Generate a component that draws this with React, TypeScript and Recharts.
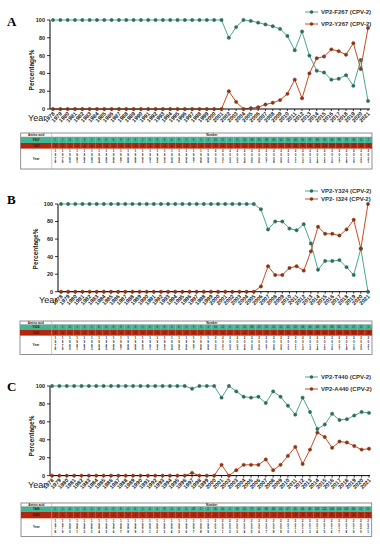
import { LineChart, Line, XAxis, YAxis } from 'recharts';

const YEARS = [
  '1978', '1979', '1980', '1981', '1982', '1983', '1984', '1985', '1986', '1987',
  '1988', '1989', '1990', '1991', '1992', '1993', '1994', '1995', '1996', '1997',
  '1998', '1999', '2000', '2001', '2002', '2003', '2004', '2005', '2006', '2007',
  '2008', '2009', '2010', '2011', '2012', '2013', '2014', '2015', '2016', '2017',
  '2018', '2019', '2020', '2021',
];

// percentages per year
const A_F267 = [
  100, 100, 100, 100, 100, 100, 100, 100, 100, 100, 100, 100, 100, 100, 100, 100,
  100, 100, 100, 100, 100, 100, 100, 100,
  80, 92, 100, 99, 97, 95, 93, 90, 82, 66, 87, 60, 43, 41, 33, 34, 38, 26, 55, 9,
];
const A_Y267 = [
  0, 0, 0, 0, 0, 0, 0, 0, 0, 0, 0, 0, 0, 0, 0, 0, 0, 0, 0, 0, 0, 0, 0, 0,
  20, 8, 0, 1, 2, 5, 7, 10, 17, 33, 12, 40, 57, 59, 67, 65, 61, 74, 45, 91,
];
const B_Y324 = [
  100, 100, 100, 100, 100, 100, 100, 100, 100, 100, 100, 100, 100, 100, 100, 100,
  100, 100, 100, 100, 100, 100, 100, 100, 100, 100, 100, 100,
  94, 71, 80, 80, 72, 70, 77, 55, 25, 35, 35, 36, 28, 19, 49, 0,
];
const B_I324 = [
  0, 0, 0, 0, 0, 0, 0, 0, 0, 0, 0, 0, 0, 0, 0, 0, 0, 0, 0, 0, 0, 0, 0, 0, 0, 0, 0, 0,
  6, 29, 19, 19, 27, 29, 24, 46, 74, 66, 66, 64, 71, 82, 49, 100,
];
const C_T440 = [
  100, 100, 100, 100, 100, 100, 100, 100, 100, 100, 100, 100, 100, 100, 100, 100,
  100, 100, 100,
  97, 100, 100, 100, 87, 100, 94, 88, 87, 88, 81, 94, 88, 78, 68, 87, 71, 52, 57,
  69, 62, 63, 67, 71, 70,
];
const C_A440 = [
  0, 0, 0, 0, 0, 0, 0, 0, 0, 0, 0, 0, 0, 0, 0, 0, 0, 0, 0,
  3, 0, 0, 0, 12, 0, 6, 12, 12, 12, 18, 6, 12, 22, 32, 13, 29, 48, 43, 31, 38, 37,
  33, 29, 30,
];

// sequence counts per year (table rows)
const A_F267_N = [
  1, 1, 11, 1, 3, 1, 8, 6, 6, 8, 4, 6, 5, 6, 6, 8, 4, 6, 5, 9, 5, 4, 16, 12,
  4, 11, 15, 68, 45, 38, 40, 54, 50, 40, 61, 67, 86, 92, 60, 89, 73, 34, 12, 2,
];
const A_Y267_N = [
  0, 0, 0, 0, 0, 0, 0, 0, 0, 0, 0, 0, 0, 0, 0, 0, 0, 0, 0, 0, 0, 0, 0, 0,
  1, 1, 0, 1, 1, 2, 3, 6, 11, 21, 9, 45, 114, 132, 122, 171, 118, 97, 10, 21,
];
const B_Y324_N = [
  1, 1, 11, 1, 3, 1, 8, 6, 6, 8, 4, 6, 5, 6, 6, 8, 4, 6, 5, 9, 5, 4, 16, 12, 4, 11, 15, 68,
  47, 31, 32, 51, 42, 42, 64, 44, 48, 61, 38, 62, 52, 27, 11, 0,
];
const B_I324_N = [
  0, 0, 0, 0, 0, 0, 0, 0, 0, 0, 0, 0, 0, 0, 0, 0, 0, 0, 0, 0, 0, 0, 0, 0, 0, 0, 0, 0,
  3, 13, 8, 13, 16, 18, 19, 36, 146, 115, 72, 110, 134, 117, 11, 23,
];
const C_T440_N = [
  1, 1, 11, 1, 3, 1, 8, 6, 6, 8, 4, 6, 5, 6, 6, 8, 4, 6, 5,
  28, 5, 4, 16, 10, 4, 16, 15, 71, 43, 38, 48, 53, 47, 41, 64, 66, 102, 122, 108,
  120, 118, 68, 13, 21,
];
const C_A440_N = [
  0, 0, 0, 0, 0, 0, 0, 0, 0, 0, 0, 0, 0, 0, 0, 0, 0, 0, 0,
  1, 0, 0, 0, 2, 0, 1, 2, 10, 6, 9, 3, 7, 13, 19, 10, 27, 94, 92, 49, 74, 68, 34, 5, 9,
];

const Y_TICKS = [0, 20, 40, 60, 80, 100];

const GREEN_LINE = '#4aa98d';
const GREEN_DOT = '#2d6d5a';
const RED_LINE = '#cc4a22';
const RED_DOT = '#8a3513';
const TEAL_ROW = '#3fb595';
const RED_ROW = '#b1260d';
const FONT = 'Arial, "Liberation Sans", sans-serif';

const YearTick = (props: any) => {
  const { x, y, payload } = props;
  return (
    <g transform={`translate(${x},${y - 1})`}>
      <text x={0} y={0} dy={3} textAnchor="end" transform="rotate(-45)"
        fontSize={5.5} fontWeight={600} fill="#222" fontFamily={FONT}>
        {payload.value}
      </text>
    </g>
  );
};

function LegendRow({ x, y, label, line, dot }: any) {
  return (
    <div style={{ position: 'absolute', left: x, top: y - 4, height: 8, display: 'flex', alignItems: 'center' }}>
      <svg width={13} height={8} style={{ marginRight: 3 }}>
        <line x1={0} y1={4} x2={13} y2={4} stroke={line} strokeWidth={1} />
        <circle cx={6.5} cy={4} r={1.8} fill={dot} />
      </svg>
      <span style={{ fontSize: 6, fontWeight: 700, color: '#333', fontFamily: FONT, whiteSpace: 'nowrap' }}>{label}</span>
    </div>
  );
}

function CountTable({ top, left, right, labelRight, headH, rowH1, rowH2, bottom, labels, rows }: any) {
  const n = YEARS.length;
  const colW = (right - labelRight) / n;
  const h = bottom - top;
  const r1 = headH;
  const r2 = headH + rowH1;
  const r3 = r2 + rowH2;
  const fills = [TEAL_ROW, RED_ROW];
  const rowTops = [r1, r2];
  const rowHs = [rowH1, rowH2];
  return (
    <svg width={380} height={h + 2} style={{ position: 'absolute', left: 0, top }}>
      <g transform="translate(0,1)" fontFamily={FONT}>
        <rect x={left} y={0} width={right - left} height={h} fill="#fff" stroke="#777" strokeWidth={0.8} />
        <text x={(left + labelRight) / 2} y={headH - 1} fontSize={3} fontWeight={700} textAnchor="middle" fill="#222">Amino acid</text>
        <text x={(labelRight + right) / 2} y={headH - 1} fontSize={3} fontWeight={700} textAnchor="middle" fill="#222">Number</text>
        {rows.map((vals: number[], k: number) => (
          <g key={k}>
            <rect x={left} y={rowTops[k]} width={right - left} height={rowHs[k]} fill={fills[k]} />
            <text x={(left + labelRight) / 2} y={rowTops[k] + rowHs[k] / 2 + 1} fontSize={3} fontWeight={700} textAnchor="middle" fill="#222">{labels[k]}</text>
            {vals.map((v, i) => (
              <g key={i}>
                <line x1={labelRight + i * colW} x2={labelRight + i * colW} y1={rowTops[k]} y2={rowTops[k] + rowHs[k]} stroke="#fff" strokeOpacity={0.5} strokeWidth={0.4} />
                <text x={labelRight + (i + 0.5) * colW} y={rowTops[k] + rowHs[k] / 2 + 1} fontSize={2.6} textAnchor="middle" fill="#222">{v}</text>
              </g>
            ))}
          </g>
        ))}
        <line x1={labelRight} x2={labelRight} y1={0} y2={h} stroke="#999" strokeWidth={0.5} />
        <line x1={left} x2={right} y1={r1} y2={r1} stroke="#999" strokeWidth={0.5} />
        <text x={(left + labelRight) / 2} y={r3 + (h - r3) / 2 + 1} fontSize={3.2} fontWeight={700} textAnchor="middle" fill="#222">Year</text>
        {YEARS.map((yr, i) => (
          <g key={yr}>
            {yr.split('').map((d, j) => (
              <text key={j} x={labelRight + (i + 0.5) * colW} y={r3 + 3.4 + j * 3.8} fontSize={3} fontWeight={600} textAnchor="middle" fill="#222">{d}</text>
            ))}
          </g>
        ))}
      </g>
    </svg>
  );
}

function Panel(p: any) {
  const data = YEARS.map((year, i) => ({ year, g: p.green[i], r: p.red[i] }));
  const chartTop = p.plotTop - 10;
  const height = (p.plotBottom - p.plotTop) + 10 + 24;
  return (
    <>
      <div style={{ position: 'absolute', left: 7, top: p.letterY - 8, fontSize: 13, fontWeight: 700, fontFamily: '"Liberation Serif", "Times New Roman", serif' }}>{p.letter}</div>
      <div style={{ position: 'absolute', left: 0, top: chartTop }}>
        <LineChart width={380} height={height} data={data} margin={{ top: 10, right: 380 - p.plotRight, bottom: 0, left: 0 }}>
          <XAxis dataKey="year" interval={0} tick={<YearTick />} tickSize={2} height={24}
            axisLine={{ stroke: '#000', strokeWidth: 1 }} tickLine={{ stroke: '#000', strokeWidth: 0.8 }}
            padding={{ left: p.padLeft, right: p.padRight }} />
          <YAxis type="number" domain={[0, 100]} ticks={Y_TICKS} interval={0} width={p.axisX} tickSize={3}
            axisLine={{ stroke: '#000', strokeWidth: 1 }} tickLine={{ stroke: '#000', strokeWidth: 0.8 }}
            tick={{ fontSize: 5.5, fontWeight: 600, fill: '#222', fontFamily: FONT }} />
          <Line type="linear" dataKey="g" stroke={GREEN_LINE} strokeWidth={1}
            dot={{ r: 1.7, fill: GREEN_DOT, stroke: GREEN_DOT, strokeWidth: 0.4 }} activeDot={false} isAnimationActive={false} />
          <Line type="linear" dataKey="r" stroke={RED_LINE} strokeWidth={1}
            dot={{ r: 1.7, fill: RED_DOT, stroke: RED_DOT, strokeWidth: 0.4 }} activeDot={false} isAnimationActive={false} />
        </LineChart>
      </div>
      <div style={{ position: 'absolute', left: p.percX, top: p.percY, transform: 'translate(-50%,-50%) rotate(-90deg)', fontSize: 6.5, fontWeight: 600, fontFamily: FONT, color: '#222', whiteSpace: 'nowrap' }}>Percentage%</div>
      <div style={{ position: 'absolute', left: p.yearX, top: p.yearY - 6, fontSize: 9, fontFamily: FONT, color: '#222' }}>Year</div>
      <LegendRow x={305} y={p.legendY[0]} label={p.names[0]} line={GREEN_LINE} dot={GREEN_DOT} />
      <LegendRow x={305} y={p.legendY[1]} label={p.names[1]} line={RED_LINE} dot={RED_DOT} />
      <CountTable {...p.table} labels={p.rowLabels} rows={p.counts} />
    </>
  );
}

export default function App() {
  return (
    <div style={{ position: 'absolute', left: 0, top: 0, width: 380, height: 550, background: '#fff', overflow: 'hidden' }}>
      <Panel letter="A" letterY={22} plotTop={20} plotBottom={109} axisX={50} plotRight={370} padLeft={3} padRight={2}
        green={A_F267} red={A_Y267} names={['VP2-F267 (CPV-2)', 'VP2-Y267 (CPV-2)']} legendY={[12.3, 24]}
        percX={31} percY={70} yearX={28} yearY={119}
        rowLabels={['F267', 'Y267']} counts={[A_F267_N, A_Y267_N]}
        table={{ top: 132, left: 20.7, right: 372, labelRight: 51.7, headH: 4, rowH1: 6, rowH2: 5.6, bottom: 168 }} />
      <Panel letter="B" letterY={200} plotTop={204} plotBottom={291.7} axisX={58} plotRight={370} padLeft={3} padRight={2}
        green={B_Y324} red={B_I324} names={['VP2-Y324 (CPV-2)', 'VP2- I324 (CPV-2)']} legendY={[190.7, 199.3]}
        percX={35} percY={249} yearX={39} yearY={301}
        rowLabels={['Y324', 'I324']} counts={[B_Y324_N, B_I324_N]}
        table={{ top: 319.5, left: 20, right: 372, labelRight: 51.7, headH: 3.6, rowH1: 5, rowH2: 6, bottom: 353 }} />
      <Panel letter="C" letterY={387} plotTop={385.7} plotBottom={475.3} axisX={50} plotRight={370} padLeft={2} padRight={1}
        green={C_T440} red={C_A440} names={['VP2-T440 (CPV-2)', 'VP2-A440 (CPV-2)']} legendY={[376.7, 389]}
        percX={31} percY={436} yearX={28} yearY={486}
        rowLabels={['T440', 'A440']} counts={[C_T440_N, C_A440_N]}
        table={{ top: 502, left: 21, right: 371.7, labelRight: 51.7, headH: 3.6, rowH1: 5.2, rowH2: 6.5, bottom: 535.5 }} />
    </div>
  );
}
